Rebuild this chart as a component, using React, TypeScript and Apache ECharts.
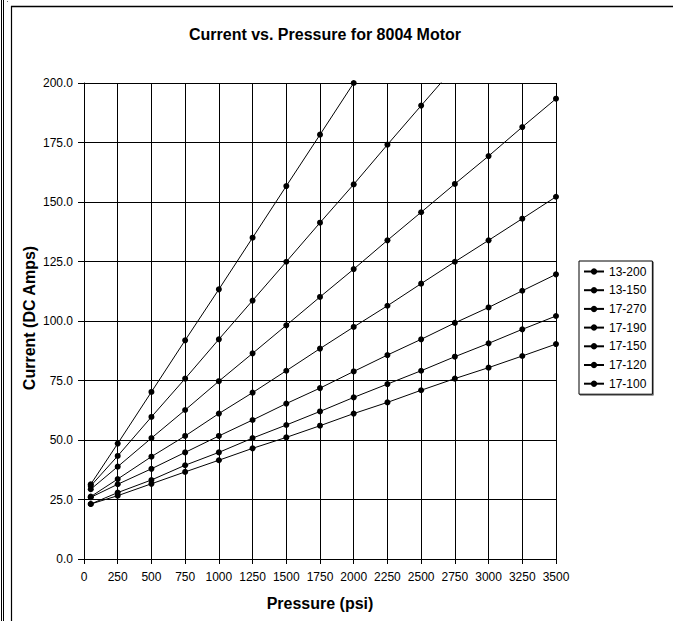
import React, { useEffect, useRef } from "react";
import * as echarts from "echarts";

const TITLE = "Current vs. Pressure for 8004 Motor";
const X_NAME = "Pressure (psi)";
const Y_NAME = "Current (DC Amps)";

const pressures = [50, 250, 500, 750, 1000, 1250, 1500, 1750, 2000, 2250, 2500, 2750, 3000, 3250, 3500];

const seriesNames = ["13-200", "13-150", "17-270", "17-190", "17-150", "17-120", "17-100"];

const s13_200 = [31.4, 48.5, 70.2, 91.9, 113.3, 135.0, 156.7, 178.3, 200.0, null, null, null, null, null, null];
const s13_150 = [30.7, 43.3, 59.7, 75.8, 92.3, 108.6, 124.9, 141.3, 157.4, 174.1, 190.5, 206.8, null, null, null];
const s17_270 = [29.3, 38.8, 50.8, 62.6, 74.7, 86.4, 98.2, 110.1, 121.8, 133.9, 145.7, 157.6, 169.3, 181.5, 193.4];
const s17_190 = [26.2, 33.6, 43.0, 51.7, 61.1, 69.9, 79.1, 88.4, 97.5, 106.4, 115.7, 124.9, 133.9, 143.0, 152.2];
const s17_150 = [25.9, 31.4, 37.9, 44.8, 51.7, 58.4, 65.3, 71.8, 78.8, 85.7, 92.3, 99.2, 105.7, 112.7, 119.6];
const s17_120 = [23.1, 27.9, 33.2, 39.4, 44.8, 50.8, 56.3, 62.0, 67.9, 73.5, 79.1, 85.0, 90.6, 96.5, 102.1];
const s17_100 = [23.1, 26.6, 31.6, 36.6, 41.5, 46.5, 51.1, 56.0, 61.1, 65.8, 70.9, 75.8, 80.4, 85.3, 90.3];

const allValues = [s13_200, s13_150, s17_270, s17_190, s17_150, s17_120, s17_100];

const FONT = "Arial";

export default function App() {
  const ref = useRef<HTMLDivElement>(null);
  useEffect(() => {
    if (!ref.current) return;
    const chart = echarts.init(ref.current, undefined, { renderer: "svg" });
    const series = seriesNames.map((name, i) => ({
      name,
      type: "line",
      data: pressures
        .map((p, j) => (allValues[i][j] == null ? null : [p, allValues[i][j]]))
        .filter((d) => d !== null),
      symbol: "circle",
      symbolSize: 6,
      showSymbol: true,
      clip: true,
      lineStyle: { color: "#000", width: 1 },
      itemStyle: { color: "#000" },
      emphasis: { disabled: true },
    }));
    chart.setOption({
      animation: false,
      backgroundColor: "#fff",
      title: {
        text: TITLE,
        left: 320,
        top: 21,
        textAlign: "center",
        textStyle: { fontFamily: FONT, fontSize: 16, fontWeight: "bold", color: "#000" },
      },
      grid: { left: 84, top: 83, right: 117, bottom: 62, containLabel: false },
      legend: {
        orient: "vertical",
        left: 579,
        top: 261,
        itemWidth: 20,
        itemHeight: 8,
        itemGap: 5.7,
        padding: [4, 6, 4, 4],
        borderColor: "#000",
        borderWidth: 1,
        backgroundColor: "#fff",
        shadowColor: "rgba(0,0,0,0.5)",
        shadowOffsetX: 1,
        shadowOffsetY: 1,
        textStyle: { fontFamily: FONT, fontSize: 12, color: "#000", lineHeight: 13 },
        data: seriesNames,
      },
      xAxis: {
        type: "value",
        min: 0,
        max: 3500,
        interval: 250,
        axisLine: { show: true, lineStyle: { color: "#000", width: 1 } },
        axisTick: { show: true, inside: false, length: 5, lineStyle: { color: "#000" } },
        axisLabel: {
          fontFamily: FONT,
          fontSize: 12,
          color: "#000",
          margin: 12,
          formatter: (v: number) => String(v),
        },
        splitLine: { show: true, lineStyle: { color: "#000", width: 1 } },
      },
      yAxis: {
        type: "value",
        min: 0,
        max: 200,
        interval: 25,
        axisLine: { show: true, lineStyle: { color: "#000", width: 1 } },
        axisTick: { show: true, inside: false, length: 6, lineStyle: { color: "#000" } },
        axisLabel: {
          fontFamily: FONT,
          fontSize: 12,
          color: "#000",
          margin: 11,
          formatter: (v: number) => v.toFixed(1),
        },
        splitLine: { show: true, lineStyle: { color: "#000", width: 1 } },
      },
      graphic: [
        { type: "line", shape: { x1: 1.5, y1: 0, x2: 1.5, y2: 621 }, style: { stroke: "#000", lineWidth: 1 } },
        { type: "line", shape: { x1: 3.5, y1: 0, x2: 3.5, y2: 621 }, style: { stroke: "#000", lineWidth: 1 } },
        { type: "line", shape: { x1: 11.5, y1: 6, x2: 11.5, y2: 621 }, style: { stroke: "#000", lineWidth: 1.2 } },
        { type: "line", shape: { x1: 11, y1: 6.5, x2: 673, y2: 6.5 }, style: { stroke: "#000", lineWidth: 1.5 } },
        { type: "rect", shape: { x: 7, y: 1, width: 1, height: 1 }, style: { fill: "#666" } },
        {
          type: "text",
          x: 29,
          y: 318,
          rotation: Math.PI / 2,
          style: {
            text: Y_NAME,
            fontFamily: FONT,
            fontSize: 16,
            fontWeight: "bold",
            fill: "#000",
            align: "center",
            verticalAlign: "middle",
          },
        },
        {
          type: "text",
          x: 320,
          y: 603,
          style: {
            text: X_NAME,
            fontFamily: FONT,
            fontSize: 16,
            fontWeight: "bold",
            fill: "#000",
            align: "center",
            verticalAlign: "middle",
          },
        },
      ],
      series,
    });
    return () => chart.dispose();
  }, []);
  return (
    <div
      ref={ref}
      style={{ position: "fixed", left: 0, top: 0, width: 673, height: 621 }}
    />
  );
}
